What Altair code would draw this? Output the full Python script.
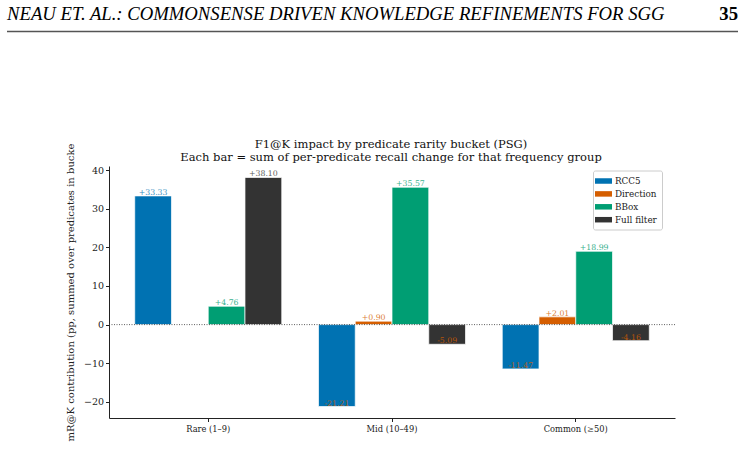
import altair as alt
import pandas as pd

buckets = ["Rare (1–9)", "Mid (10–49)", "Common (≥50)"]
series = ["RCC5", "Direction", "BBox", "Full filter"]
colors = ["#0072B2", "#D55E00", "#009E73", "#333333"]
rcc5 = [33.33, -21.21, -11.47]
direction = [None, 0.90, 2.01]
bbox = [4.76, 35.57, 18.99]
full_filter = [38.10, -5.09, -4.16]

title_lines = ["F1@K impact by predicate rarity bucket (PSG)",
               "Each bar = sum of per-predicate recall change for that frequency group"]
y_title = "mR@K contribution (pp, summed over predicates in bucke"
header = "NEAU ET. AL.: COMMONSENSE DRIVEN KNOWLEDGE REFINEMENTS FOR SGG"
page_no = "35"

rows = []
for s, vals, c in zip(series, [rcc5, direction, bbox, full_filter], colors):
    for b, v in zip(buckets, vals):
        if v is None:
            continue
        rows.append({"bucket": b, "series": s, "value": v,
                     "label": f"{v:+.2f}",
                     "lcolor": c if v >= 0 else "#D55E00"})
df = pd.DataFrame(rows)

FONT = "DejaVu Serif"

x_enc = alt.X("bucket:N", sort=buckets,
              scale=alt.Scale(paddingInner=0, paddingOuter=0.04),
              axis=alt.Axis(title=None, labelAngle=0, labelFontSize=8.3, labelFont=FONT,
                            tickSize=3.5, labelPadding=3, labelColor="#222"))
xo_enc = alt.XOffset("series:N", sort=series,
                     scale=alt.Scale(domain=series, paddingInner=0, paddingOuter=0.5))
y_scale = alt.Scale(domain=[-24.18, 41.07], nice=False, zero=False)

base = alt.Chart(df)

bars = base.mark_bar(stroke="white", strokeWidth=0.7).encode(
    x=x_enc, xOffset=xo_enc,
    y=alt.Y("value:Q", scale=y_scale,
            axis=alt.Axis(title=y_title, values=[-20, -10, 0, 10, 20, 30, 40],
                          grid=False, labelFontSize=9.5, labelFont=FONT, titleFont=FONT,
                          titleFontSize=10, titleFontWeight="normal", titlePadding=8,
                          tickSize=3.5, labelColor="#222", titleColor="#222")),
    y2=alt.datum(0),
    color=alt.Color("series:N", sort=series,
                    scale=alt.Scale(domain=series, range=colors),
                    legend=alt.Legend(title=None, orient="none", legendX=484, legendY=4.5,
                                      labelFont=FONT, labelFontSize=8.8, labelColor="#222",
                                      symbolType="M-1.55,-0.5H1.55V0.5H-1.55Z", symbolSize=121,
                                      symbolStrokeWidth=0, rowPadding=1.9,
                                      padding=5, fillColor="white", strokeColor="#cccccc",
                                      cornerRadius=2, labelOffset=6)),
)

labels = base.mark_text(baseline="bottom", fontSize=7.8, font=FONT, opacity=0.8, dy=1).encode(
    x=alt.X("bucket:N", sort=buckets), xOffset=alt.XOffset("series:N", sort=series),
    y="value:Q", text="label:N", color=alt.Color("lcolor:N", scale=None, legend=None),
)

zero = alt.Chart(pd.DataFrame({"z": [0]})).mark_rule(
    strokeDash=[1, 1.5], color="#333", strokeWidth=0.8).encode(y=alt.Y("z:Q"))

title1 = alt.Chart(pd.DataFrame({"t": [title_lines[0]]})).mark_text(
    align="center", baseline="alphabetic", font=FONT, fontSize=11.5, color="#111").encode(
    text="t:N", x=alt.value(282), y=alt.value(-18))
title2 = alt.Chart(pd.DataFrame({"t": [title_lines[1]]})).mark_text(
    align="center", baseline="alphabetic", font=FONT, fontSize=11.5, color="#111").encode(
    text="t:N", x=alt.value(282), y=alt.value(-5.5))

hdr = alt.Chart(pd.DataFrame({"t": [header]})).mark_text(
    align="left", baseline="alphabetic", font="Liberation Serif", fontStyle="italic",
    fontSize=18.7, color="black").encode(text="t:N", x=alt.value(-102), y=alt.value(-146))
pg = alt.Chart(pd.DataFrame({"t": [page_no]})).mark_text(
    align="right", baseline="alphabetic", font="Liberation Serif", fontWeight="bold",
    fontSize=18.7, color="black").encode(text="t:N", x=alt.value(629), y=alt.value(-146))
hrule = alt.Chart(pd.DataFrame({"t": [0]})).mark_rule(
    color="#555", strokeWidth=1.3).encode(x=alt.value(-102), x2=alt.value(629), y=alt.value(-134.5))

chart = alt.layer(bars, zero, labels, title1, title2, hdr, pg, hrule).resolve_scale(
    color="independent").properties(
    width=566, height=252,
    autosize=alt.AutoSizeParams(type="none"),
    padding={"left": 109, "top": 166, "right": 69, "bottom": 32},
).configure_view(stroke=None).configure_axis(domainColor="#222", tickColor="#222", domainWidth=1)

chart.save("out.html", embed_options={"renderer": "svg", "actions": False})
